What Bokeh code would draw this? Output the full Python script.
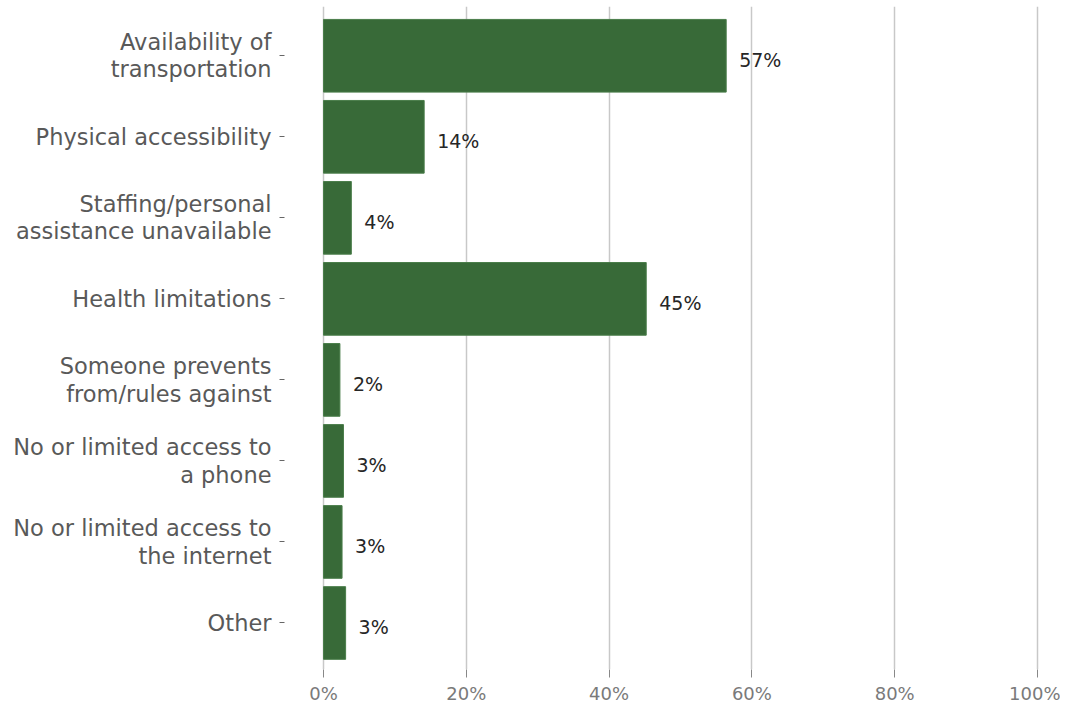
from bokeh.plotting import figure
from bokeh.models import Range1d, FixedTicker, ColumnDataSource
from bokeh.core.properties import value
from bokeh.embed import file_html
from bokeh.resources import INLINE

categories = [
    "Availability of\ntransportation",
    "Physical accessibility",
    "Staffing/personal\nassistance unavailable",
    "Health limitations",
    "Someone prevents\nfrom/rules against",
    "No or limited access to\na phone",
    "No or limited access to\nthe internet",
    "Other",
]
values = [56.4, 14.1, 3.9, 45.2, 2.3, 2.8, 2.6, 3.1]
value_labels = ["57%", "14%", "4%", "45%", "2%", "3%", "3%", "3%"]
x_ticks = [0, 20, 40, 60, 80, 100]
x_tick_labels = ["0%", "20%", "40%", "60%", "80%", "100%"]

pos = list(range(len(categories)))
src = ColumnDataSource(dict(y=pos, v=values, lab=value_labels))

FONT = "DejaVu Sans"

p = figure(width=1060, height=706, output_backend="svg", toolbar_location=None,
           x_range=Range1d(-5.46, 101.54), y_range=Range1d(7.574, -0.608),
           min_border_top=6, min_border_left=284, min_border_right=12, min_border_bottom=0)
p.outline_line_color = None
p.background_fill_color = "white"

p.hbar(y="y", right="v", left=0, height=0.897, source=src,
       fill_color="#386a38", line_color="#4a7d4a", line_width=1)

p.text(x="v", y="y", text="lab", source=src, x_offset=13, y_offset=4,
       text_baseline="middle", text_align="left", text_color="#262626",
       text_font=value(FONT), text_font_size="19px")

p.xaxis.ticker = FixedTicker(ticks=x_ticks)
p.xaxis.major_label_overrides = {t: l for t, l in zip(x_ticks, x_tick_labels)}
p.xaxis.axis_line_color = None
p.xaxis.major_tick_in = 0
p.xaxis.major_tick_out = 8
p.xaxis.major_tick_line_color = "#888888"
p.xaxis.minor_tick_line_color = None
p.xaxis.major_label_text_font = FONT
p.xaxis.major_label_text_font_size = "18px"
p.xaxis.major_label_text_color = "#7a7a7a"
p.xaxis.major_label_standoff = 5

p.yaxis.ticker = FixedTicker(ticks=pos)
p.yaxis.major_label_overrides = {i: c for i, c in zip(pos, categories)}
p.yaxis.axis_line_color = None
p.yaxis.major_tick_in = 0
p.yaxis.major_tick_out = 5
p.yaxis.major_tick_line_color = "#666666"
p.yaxis.minor_tick_line_color = None
p.yaxis.major_label_text_font = FONT
p.yaxis.major_label_text_font_size = "22.5px"
p.yaxis.major_label_text_color = "#595959"
p.yaxis.major_label_text_line_height = 1.05
p.yaxis.major_label_standoff = 8

p.xgrid.ticker = FixedTicker(ticks=x_ticks)
p.xgrid.grid_line_color = "#c8c8c8"
p.xgrid.grid_line_width = 1.5
p.ygrid.grid_line_color = None

open("out.html", "w").write(file_html(p, INLINE))
